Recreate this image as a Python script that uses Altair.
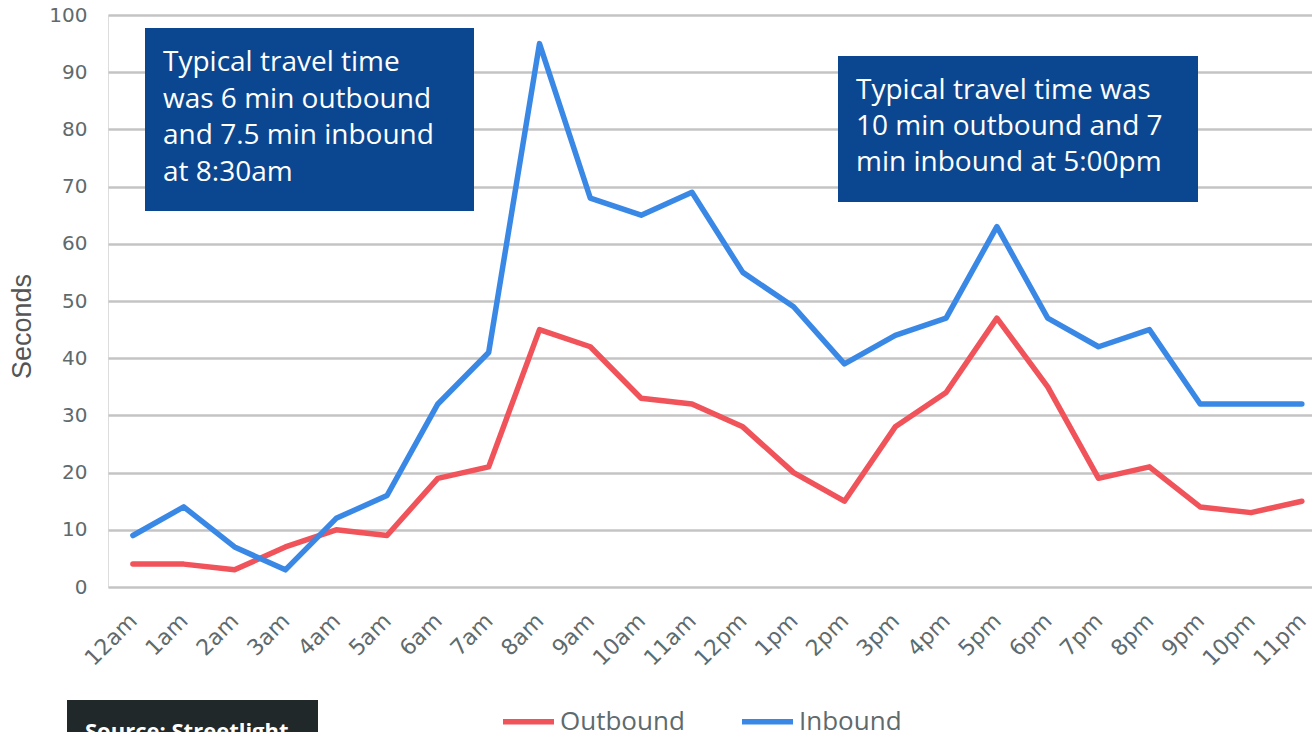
import altair as alt
import pandas as pd

hours = ["12am", "1am", "2am", "3am", "4am", "5am", "6am", "7am", "8am", "9am", "10am", "11am",
         "12pm", "1pm", "2pm", "3pm", "4pm", "5pm", "6pm", "7pm", "8pm", "9pm", "10pm", "11pm"]
outbound = [4, 4, 3, 7, 10, 9, 19, 21, 45, 42, 33, 32, 28, 20, 15, 28, 34, 47, 35, 19, 21, 14, 13, 15]
inbound = [9, 14, 7, 3, 12, 16, 32, 41, 95, 68, 65, 69, 55, 49, 39, 44, 47, 63, 47, 42, 45, 32, 32, 32]
series = ["Outbound", "Inbound"]
colors = ["#f0535a", "#3a88e6"]

note1 = ["Typical travel time", "was 6 min outbound", "and 7.5 min inbound", "at 8:30am"]
note2 = ["Typical travel time was", "10 min outbound and 7", "min inbound at 5:00pm"]
source = "Source: Streetlight"

rows = []
for i, h in enumerate(hours):
    rows.append({"idx": i, "hour": h, "series": "Outbound", "value": outbound[i]})
    rows.append({"idx": i, "hour": h, "series": "Inbound", "value": inbound[i]})
df = pd.DataFrame(rows)

label_expr = "[" + ",".join(f"'{h}'" for h in hours) + "][datum.value]"

W, H = 1204, 572
FONT = "Open Sans"
TICKFONT = "DejaVu Sans"
GRAY = "#5e6a6c"

x = alt.X("idx:Q", scale=alt.Scale(domain=[-0.49, 23.2], nice=False, zero=False),
          axis=alt.Axis(values=list(range(24)), labelExpr=label_expr, labelAngle=-45,
                        labelAlign="right", labelBaseline="middle", labelPadding=30,
                        labelFontSize=22, labelColor=GRAY, labelFont=TICKFONT,
                        labelOverlap=False, labelBound=False, labelFlush=False,
                        ticks=False, domain=False, grid=False, title=None))
y = alt.Y("value:Q", scale=alt.Scale(domain=[0, 100], nice=False),
          axis=alt.Axis(values=list(range(0, 101, 10)), labelFontSize=20, labelColor=GRAY,
                        labelFont=TICKFONT, labelPadding=21, ticks=False, domain=False,
                        labelOverlap=False,
                        grid=True, gridColor="#c4c4c4", gridWidth=2.5,
                        title="Seconds", titleFont="Liberation Sans", titleFontSize=27,
                        titleFontWeight="normal", titleColor="#555555", titlePadding=12,
                        titleY=311))

lines = alt.Chart(df).mark_line(strokeWidth=5.5, strokeCap="round", strokeJoin="round").encode(
    x=x, y=y,
    color=alt.Color("series:N", scale=alt.Scale(domain=series, range=colors),
                    legend=alt.Legend(orient="none", legendX=392, legendY=678, direction="horizontal",
                                      title=None, symbolType="stroke", symbolStrokeWidth=5.5,
                                      symbolSize=2600, labelFontSize=26, labelFont=FONT,
                                      labelColor=GRAY, labelOffset=3, columnPadding=46)),
    order="idx:Q",
)


def note_layers(lines_, bx, by, bw, bh, tx, ty, lh):
    layers = [alt.Chart(pd.DataFrame({"a": [0]})).mark_rect(color="#0b4790").encode(
        x=alt.value(bx), x2=alt.value(bx + bw), y=alt.value(by), y2=alt.value(by + bh))]
    for k, t in enumerate(lines_):
        layers.append(alt.Chart(pd.DataFrame({"t": [t]})).mark_text(
            align="left", baseline="middle", color="white", fontSize=28, font=FONT).encode(
            x=alt.value(tx), y=alt.value(ty + k * lh), text="t:N"))
    return layers


n1 = note_layers(note1, 145 - 108, 28 - 15, 329, 183, 163 - 108, 63 - 15, 36.7)
n2 = note_layers(note2, 838 - 108, 56 - 15, 360, 146, 856 - 108, 91 - 15, 36)

src_box = alt.Chart(pd.DataFrame({"a": [0]})).mark_rect(color="#212829").encode(
    x=alt.value(67 - 108), x2=alt.value(318 - 108), y=alt.value(700 - 15), y2=alt.value(760 - 15))
src_txt = alt.Chart(pd.DataFrame({"t": [source]})).mark_text(
    align="left", baseline="alphabetic", color="white", fontSize=22, fontWeight="bold", font=FONT).encode(
    x=alt.value(85 - 108), y=alt.value(739 - 15), text="t:N")

chart = alt.layer(lines, *n1, *n2, src_box, src_txt).properties(
    width=W, height=H,
    padding={"left": 108, "top": 15, "right": 0, "bottom": 145},
    autosize=alt.AutoSizeParams(type="none"),
).configure_view(stroke=None).configure(background="white")

chart.save("out.html", embed_options={"renderer": "svg", "actions": False})
